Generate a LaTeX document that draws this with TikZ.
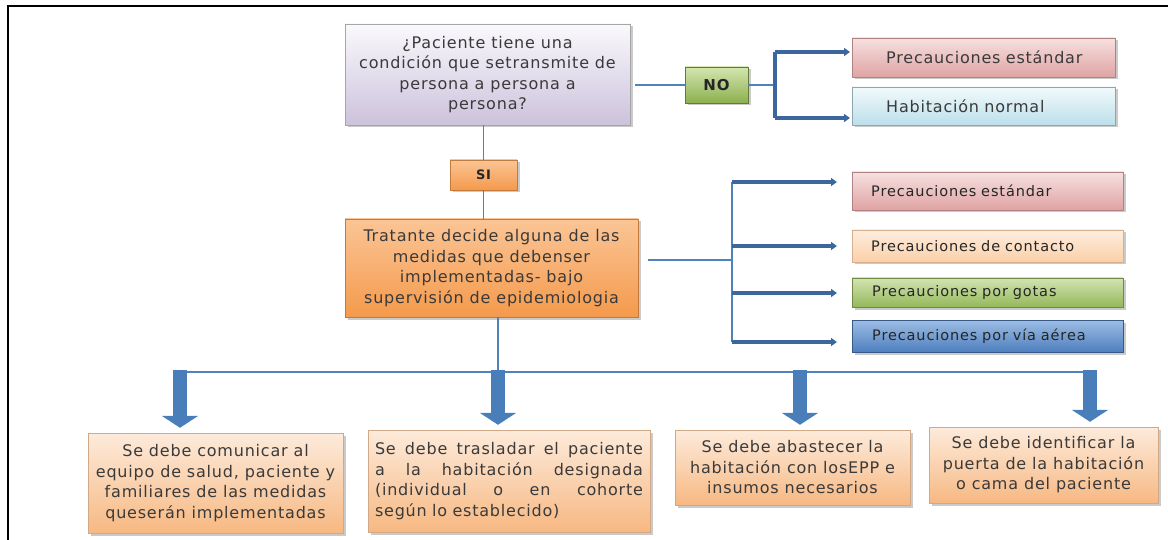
\documentclass[tikz,border=0pt]{standalone}
\usepackage{fontspec}
\newfontfamily\boxfont{DejaVu Sans}[LetterSpace=5]
\newfontfamily\smallfont{DejaVu Sans}[LetterSpace=6,WordSpace=0.45]
\newfontfamily\tagfont{DejaVu Sans Bold}[LetterSpace=5]
\usetikzlibrary{arrows.meta,shadows}
\definecolor{txt}{HTML}{3A3A3A}
\definecolor{txtd}{HTML}{262626}
\definecolor{conn}{HTML}{4F81BD}
\definecolor{darr}{HTML}{3C679E}
\definecolor{blockb}{HTML}{4A7EBB}
\definecolor{qtop}{HTML}{FAF9FC}
\definecolor{qbot}{HTML}{CCC2DC}
\definecolor{gtop}{HTML}{D4E6B0}
\definecolor{gbot}{HTML}{8CB04F}
\definecolor{otop}{HTML}{FBC596}
\definecolor{obot}{HTML}{F49A4C}
\definecolor{ptop}{HTML}{FDEBDB}
\definecolor{pbot}{HTML}{F7B882}
\definecolor{rtop}{HTML}{F7E0E0}
\definecolor{rbot}{HTML}{DFA3A3}
\definecolor{ctop}{HTML}{F2FAFC}
\definecolor{cbot}{HTML}{BCDFEA}
\definecolor{ktop}{HTML}{FEEEDF}
\definecolor{kbot}{HTML}{FBCFA8}
\definecolor{vtop}{HTML}{D2E4B2}
\definecolor{vbot}{HTML}{95B85A}
\definecolor{btop}{HTML}{9DBDE4}
\definecolor{bbot}{HTML}{4E7FBF}
\tikzset{
  box/.style={draw, rectangle, inner sep=0pt, text=txt,
    drop shadow={shadow xshift=2.5pt, shadow yshift=-2.5pt, opacity=0.35, fill=black!60}},
  qbox/.style={box, draw=black!35, top color=qtop, bottom color=qbot},
  greenbox/.style={box, draw=gbot!70!black, top color=gtop, bottom color=gbot},
  orangebox/.style={box, draw=obot!80!black, top color=otop, bottom color=obot},
  peachbox/.style={box, draw=pbot!80!black!80, top color=ptop, bottom color=pbot},
  redbox/.style={box, draw=rbot!80!black, top color=rtop, bottom color=rbot},
  bluelbox/.style={box, draw=cbot!75!black, top color=ctop, bottom color=cbot},
  contbox/.style={box, draw=kbot!85!black, top color=ktop, bottom color=kbot},
  gbox/.style={box, draw=vbot!75!black, top color=vtop, bottom color=vbot},
  dbbox/.style={box, draw=bbot!70!black, top color=btop, bottom color=bbot},
  conn/.style={draw=conn, line width=1.2pt},
  thickarr/.style={draw=darr, line width=3.3pt, -{Triangle[width=8pt,length=6pt]}},
  blockarrow/.style={draw=blockb, line width=14pt, -{Triangle[width=36pt,length=12pt]}, shorten >=5pt},
  mainfont/.style={font={\boxfont\fontsize{16}{20.5}\selectfont}},
  smallfontst/.style={text=txtd, font={\smallfont\fontsize{14.5}{17}\selectfont}},
}
\begin{document}
\begin{tikzpicture}[x=1pt,y=-1pt, mainfont]
\useasboundingbox (0,0) rectangle (1168,540);
% frame
\draw[line width=2pt] (8,540) -- (8,6) -- (1168,6);

% question
\node[qbox, minimum width=285pt, minimum height=101pt, align=center] (q) at (487.5,74.5)
  {¿Paciente tiene una\\condición que setransmite de\\persona a persona a\\persona?};
\node[greenbox, minimum width=63pt, minimum height=36pt, text=txtd, font={\tagfont\fontsize{15}{18}\selectfont}] (no) at (716.5,85) {NO};
\node[redbox, minimum width=263pt, minimum height=39pt, anchor=west, text width=229pt, align=left] (pe1) at (852,57.5) {\hspace*{17pt}Precauciones estándar};
\node[bluelbox, minimum width=263pt, minimum height=38pt, anchor=west, text width=229pt, align=left] (hn) at (852,106) {\hspace*{17pt}Habitación normal};

\coordinate (nb) at (775,85);
\coordinate (nt) at (775,52);
\coordinate (nbt) at (775,118);
\draw[conn] (q.east |- no.west) [shorten <=5pt] -- (no.west);
\draw[conn] (no.east) -- (nb);
\draw[draw=darr, line width=3.3pt] (nt) -- (nbt);
\draw[thickarr] (nt) -- (nt -| pe1.west) [shorten >=2pt];
\draw[thickarr] (nbt) -- (nbt -| hn.west) [shorten >=2pt];

% SI and decision
\node[orangebox, minimum width=67pt, minimum height=30pt, text=txtd, font={\tagfont\fontsize{13}{16}\selectfont}] (si) at (483.5,175) {SI};
\draw[conn] (si.north |- q.south) -- (si.north);
\node[orangebox, minimum width=293pt, minimum height=98pt, align=center] (tr) at (491.5,268)
  {Tratante decide alguna de las\\medidas que debenser\\implementadas- bajo\\supervisión de epidemiologia};
\draw[conn] (si.south) -- (si.south |- tr.north);

% right precautions
\node[redbox, minimum width=271pt, minimum height=38pt, anchor=west, text width=253pt, align=left, smallfontst] (pe2) at (852,191) {\hspace*{10pt}Precauciones estándar};
\node[contbox, minimum width=271pt, minimum height=32pt, anchor=west, text width=253pt, align=left, smallfontst] (pc) at (852,246) {\hspace*{10pt}Precauciones de contacto};
\node[gbox, minimum width=271pt, minimum height=29pt, anchor=west, text width=253pt, align=left, smallfontst] (pg) at (852,292.5) {\hspace*{11pt}Precauciones por gotas};
\node[dbbox, minimum width=271pt, minimum height=32pt, anchor=west, text width=253pt, align=left, smallfontst] (pva) at (852,336) {\hspace*{11pt}Precauciones por vía aérea};

\coordinate (bm) at (732,260);
\coordinate (c1) at (732,182);
\coordinate (c2) at (732,246);
\coordinate (c3) at (732,293);
\coordinate (c4) at (732,342);
\draw[conn] (tr.east |- bm) [shorten <=10pt] -- (bm);
\draw[conn] (c1) -- (c4);
\draw[thickarr] (c1) -- (c1 -| pe2.west) [shorten >=15pt];
\draw[thickarr] (c2) -- (c2 -| pc.west) [shorten >=15pt];
\draw[thickarr] (c3) -- (c3 -| pg.west) [shorten >=15pt];
\draw[thickarr] (c4) -- (c4 -| pva.west) [shorten >=15pt];

% bottom boxes
\node[peachbox, minimum width=255pt, minimum height=100pt, align=center] (b1) at (215.5,483)
  {Se debe comunicar al\\equipo de salud, paciente y\\familiares de las medidas\\queserán implementadas};
\node[peachbox, minimum width=282pt, minimum height=102pt, text width=268pt, align=left] (b2) at (509,481)
  {Se\hfill debe\hfill trasladar\hfill el\hfill paciente\\a\hfill la\hfill habitación\hfill designada\\(individual\hfill o\hfill en\hfill cohorte\\según lo establecido)};
\node[peachbox, minimum width=235pt, minimum height=75pt, align=center] (b3) at (792.5,467.5)
  {Se debe abastecer la\\habitación con losEPP e\\insumos necesarios};
\node[peachbox, minimum width=229pt, minimum height=76pt, align=center] (b4) at (1043.5,465)
  {Se debe identificar la\\puerta de la habitación\\o cama del paciente};

\coordinate (a1) at (180,372);
\coordinate (a2) at (498,372);
\coordinate (a3) at (800,372);
\coordinate (a4) at (1090,372);
\draw[conn] (tr.south -| a2) -- (a2);
\draw[conn] (a1) -- (a4);
\draw[blockarrow] ([yshift=2pt]a1) -- (a1 |- b1.north);
\draw[blockarrow] ([yshift=2pt]a2) -- (a2 |- b2.north);
\draw[blockarrow] ([yshift=2pt]a3) -- (a3 |- b3.north);
\draw[blockarrow] ([yshift=2pt]a4) -- (a4 |- b4.north);
\end{tikzpicture}
\end{document}
